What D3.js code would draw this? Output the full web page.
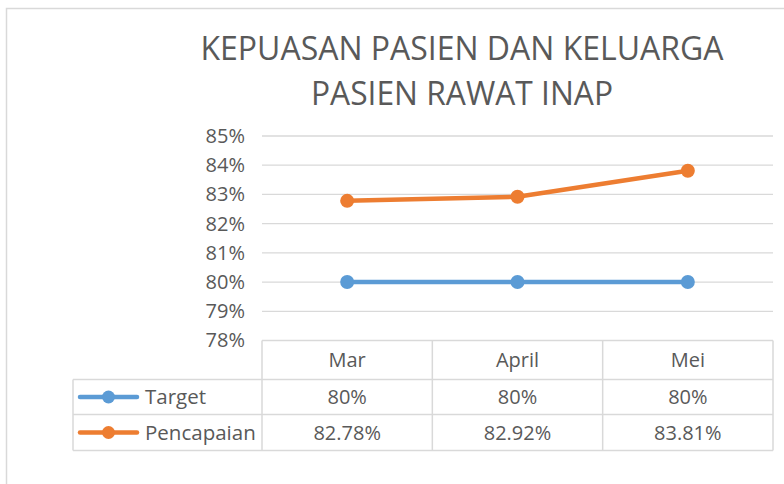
<!DOCTYPE html>
<html>
<head>
<meta charset="utf-8">
<script src="https://cdn.jsdelivr.net/npm/d3@7"></script>
<style>
  body { margin: 0; background: #fff; }
  text { font-family: "Open Sans", "Noto Sans", sans-serif; fill: #595959; }
</style>
</head>
<body>
<div id="chart"></div>
<script>
// data
var categories = ["Mar", "April", "Mei"];
var target = [80, 80, 80];
var pencapaian = [82.78, 82.92, 83.81];
var yTicks = [78, 79, 80, 81, 82, 83, 84, 85];
var titleLines = ["KEPUASAN PASIEN DAN KELUARGA", "PASIEN RAWAT INAP"];

var series = [
  { name: "Target", values: target, color: "#5b9bd5" },
  { name: "Pencapaian", values: pencapaian, color: "#ed7d31" }
];

var svgWidth = 784;
var svgHeight = 484;

var plot = { left: 262, right: 773, top: 136, bottom: 340.5 };
var tableLeft = 73;
var rowH = [39, 35, 36];

var svg = d3.select("#chart")
  .append("svg")
  .attr("width", svgWidth)
  .attr("height", svgHeight);

// chart border (runs off the page on the right and bottom)
svg.append("rect")
  .attr("x", 6.5)
  .attr("y", 8.5)
  .attr("width", 900)
  .attr("height", 600)
  .attr("fill", "none")
  .attr("stroke", "#d9d9d9")
  .attr("stroke-width", 1.5);

// title
svg.selectAll(".title")
  .data(titleLines)
  .enter()
  .append("text")
  .attr("class", "title")
  .attr("x", 462)
  .attr("y", (d, i) => 60 + i * 44.5)
  .attr("text-anchor", "middle")
  .attr("font-size", 33)
  .attr("textLength", (d, i) => i == 0 ? 523 : 302)
  .attr("lengthAdjust", "spacingAndGlyphs")
  .text(d => d);

var xScale = d3.scaleBand()
  .domain(categories)
  .range([plot.left, plot.right]);

var yScale = d3.scaleLinear()
  .domain([78, 85])
  .range([plot.bottom, plot.top]);

// gridlines
svg.append("g")
  .selectAll("line")
  .data(yTicks.slice(1))
  .enter()
  .append("line")
  .attr("x1", plot.left)
  .attr("x2", plot.right)
  .attr("y1", d => yScale(d))
  .attr("y2", d => yScale(d))
  .attr("stroke", "#d9d9d9")
  .attr("stroke-width", 1.3);

// y axis labels
var yAxis = d3.axisLeft(yScale)
  .tickValues(yTicks)
  .tickFormat(d => d + "%")
  .tickSize(0)
  .tickPadding(17);

var yAxisG = svg.append("g")
  .attr("transform", `translate(${plot.left},0)`)
  .call(yAxis);
yAxisG.select(".domain").remove();
yAxisG.selectAll("text")
  .attr("font-size", 20)
  .attr("font-family", "Open Sans")
  .attr("fill", "#595959");

// lines and markers
var line = d3.line()
  .x((d, i) => xScale(categories[i]) + xScale.bandwidth() / 2)
  .y(d => yScale(d));

series.forEach(function(s) {
  svg.append("path")
    .datum(s.values)
    .attr("d", line)
    .attr("fill", "none")
    .attr("stroke", s.color)
    .attr("stroke-width", 4.5)
    .attr("stroke-linejoin", "round");

  svg.selectAll(null)
    .data(s.values)
    .enter()
    .append("circle")
    .attr("cx", (d, i) => xScale(categories[i]) + xScale.bandwidth() / 2)
    .attr("cy", d => yScale(d))
    .attr("r", 7)
    .attr("fill", s.color);
});

// data table
var rowTop = [plot.bottom, plot.bottom + rowH[0], plot.bottom + rowH[0] + rowH[1]];
var tableBottom = rowTop[2] + rowH[2];
var gridColor = "#d9d9d9";
var table = svg.append("g");

function hLine(x1, x2, y) {
  table.append("line").attr("x1", x1).attr("x2", x2).attr("y1", y).attr("y2", y)
    .attr("stroke", gridColor).attr("stroke-width", 1.5);
}
function vLine(x, y1, y2) {
  table.append("line").attr("x1", x).attr("x2", x).attr("y1", y1).attr("y2", y2)
    .attr("stroke", gridColor).attr("stroke-width", 1.5);
}

hLine(plot.left, plot.right, rowTop[0]);
hLine(tableLeft, plot.right, rowTop[1]);
hLine(tableLeft, plot.right, rowTop[2]);
hLine(tableLeft, plot.right, tableBottom);
vLine(tableLeft, rowTop[1], tableBottom);
categories.forEach(function(c) {
  vLine(xScale(c), rowTop[0], tableBottom);
});
vLine(plot.right, rowTop[0], tableBottom);

// header
table.selectAll(".cat")
  .data(categories)
  .enter()
  .append("text")
  .attr("x", d => xScale(d) + xScale.bandwidth() / 2)
  .attr("y", rowTop[0] + rowH[0] / 2 + 7)
  .attr("text-anchor", "middle")
  .attr("font-size", 20)
  .text(d => d);

function fmt(v) {
  return (Number.isInteger(v) ? v : v.toFixed(2)) + "%";
}

series.forEach(function(s, k) {
  var cy = rowTop[k + 1] + rowH[k + 1] / 2;
  // legend key
  table.append("line")
    .attr("x1", 80).attr("x2", 137)
    .attr("y1", cy).attr("y2", cy)
    .attr("stroke", s.color)
    .attr("stroke-width", 4.5)
    .attr("stroke-linecap", "round");
  table.append("circle")
    .attr("cx", 108.5).attr("cy", cy).attr("r", 6.5)
    .attr("fill", s.color);
  table.append("text")
    .attr("x", 145)
    .attr("y", cy + 7)
    .attr("font-size", 20.5)
    .text(s.name);

  table.selectAll(null)
    .data(s.values)
    .enter()
    .append("text")
    .attr("x", (d, i) => xScale(categories[i]) + xScale.bandwidth() / 2)
    .attr("y", cy + 7)
    .attr("text-anchor", "middle")
    .attr("font-size", 20)
    .text(d => fmt(d));
});
</script>
</body>
</html>
